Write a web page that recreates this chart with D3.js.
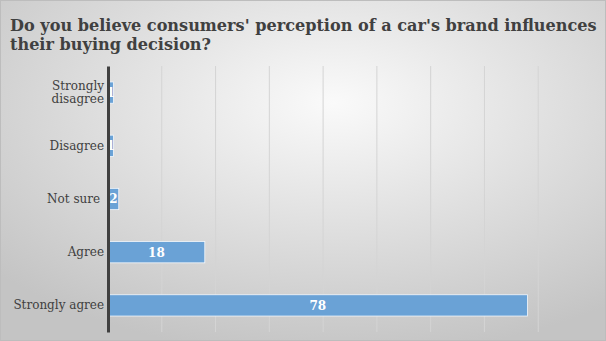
<!DOCTYPE html>
<html>
<head>
<meta charset="utf-8">
<script src="https://cdn.jsdelivr.net/npm/d3@7"></script>
<style>
  html, body { margin: 0; padding: 0; }
  body { width: 606px; height: 341px; overflow: hidden; }
  svg { display: block; }
</style>
</head>
<body>
<div id="chart"></div>
<script>
// Data
const categories = ['Strongly disagree', 'Disagree', 'Not sure ', 'Agree', 'Strongly agree'];
const values = [1, 1, 2, 18, 78];
const xTicks = [10, 20, 30, 40, 50, 60, 70, 80];
const titleLines = ["Do you believe consumers' perception of a car's brand influences",
                    'their buying decision?'];

const W = 606, H = 341;
const margin = { top: 66, right: 14, bottom: 9, left: 108 };
const width = W - margin.left - margin.right;
const height = H - margin.top - margin.bottom;

const root = d3.select('#chart').append('svg')
    .attr('width', W)
    .attr('height', H);

// Background: soft radial gradient with gray frame
const defs = root.append('defs');
const grad = defs.append('radialGradient')
    .attr('id', 'bg')
    .attr('cx', '55%').attr('cy', '30%').attr('r', '75%');
grad.append('stop').attr('offset', '0%').attr('stop-color', '#fafafa');
grad.append('stop').attr('offset', '100%').attr('stop-color', '#c4c4c4');

root.append('rect')
    .attr('x', 0.5).attr('y', 0.5)
    .attr('width', W - 1).attr('height', H - 1)
    .attr('fill', 'url(#bg)')
    .attr('stroke', '#bdbdbd');

// Title
const title = root.append('text')
    .attr('x', 10)
    .attr('y', 31)
    .style('font-family', '"DejaVu Serif", serif')
    .style('font-weight', 'bold')
    .style('font-size', '16.1px')
    .attr('fill', '#404040');
title.selectAll('tspan')
    .data(titleLines)
    .enter()
    .append('tspan')
    .attr('x', 10)
    .attr('dy', (d, i) => i === 0 ? 0 : 19)
    .text(d => d);

const svg = root.append('g')
    .attr('transform', `translate(${margin.left},${margin.top})`);

const x = d3.scaleLinear().domain([0, 90]).range([0, 484]);
const y = d3.scaleBand().domain(categories).range([0, height]).paddingInner(0.6).paddingOuter(0.3);

// Vertical gridlines
svg.selectAll('.grid')
    .data(xTicks)
    .enter()
    .append('line')
    .attr('class', 'grid')
    .attr('x1', d => x(d)).attr('x2', d => x(d))
    .attr('y1', 0).attr('y2', height)
    .attr('stroke', '#d4d4d4')
    .attr('stroke-width', 1);

// Bars
svg.selectAll('.bar')
    .data(values)
    .enter()
    .append('rect')
    .attr('class', 'bar')
    .attr('x', 0)
    .attr('y', (d, i) => y(categories[i]))
    .attr('width', d => x(d))
    .attr('height', y.bandwidth())
    .attr('fill', '#6aa2d6')
    .attr('stroke', '#f4f8fc')
    .attr('stroke-width', 0.8);

// Value labels
svg.selectAll('.val')
    .data(values)
    .enter()
    .append('text')
    .attr('class', 'val')
    .attr('x', d => x(d) / 2)
    .attr('y', (d, i) => y(categories[i]) + y.bandwidth() / 2)
    .attr('dy', '0.36em')
    .attr('text-anchor', 'middle')
    .style('font-family', '"DejaVu Serif", serif')
    .style('font-weight', 'bold')
    .style('font-size', '12px')
    .attr('fill', '#ffffff')
    .text(d => d);

// Category axis
const yAxis = d3.axisLeft(y).tickSize(0).tickPadding(4);
const gy = svg.append('g').call(yAxis);
gy.select('.domain').attr('stroke', '#404040').attr('stroke-width', 3);
gy.selectAll('text')
    .style('font-family', '"DejaVu Serif", serif')
    .style('font-size', '12px')
    .style('white-space', 'pre')
    .attr('fill', '#404040')
    .each(function (d) {
        const t = d3.select(this);
        if (d === 'Strongly disagree') {
            t.text(null);
            t.append('tspan').attr('x', -4).attr('dy', '-0.25em').text('Strongly');
            t.append('tspan').attr('x', -4).attr('dy', '1.1em').text('disagree');
        }
    });
</script>
</body>
</html>
